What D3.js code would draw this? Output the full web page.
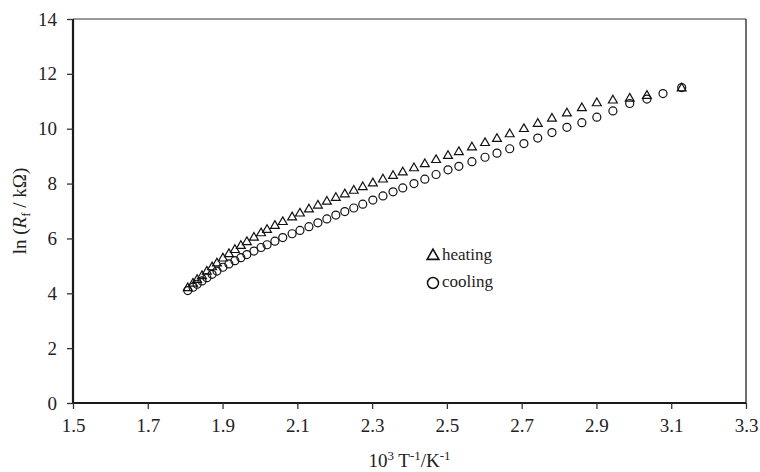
<!DOCTYPE html>
<html>
<head>
<meta charset="utf-8">
<script src="https://cdn.jsdelivr.net/npm/d3@7"></script>
<style>
  body { margin: 0; background: #fff; }
  text { font-family: "Liberation Serif", "DejaVu Serif", serif; fill: #222; }
</style>
</head>
<body>
<div id="chart"></div>
<script>
// x values (10^3/T)
var heatX = [1.807, 1.821, 1.832, 1.845, 1.858, 1.872, 1.885, 1.901, 1.917, 1.933, 1.949, 1.965, 1.984, 2.003, 2.019, 2.040, 2.061, 2.086, 2.107, 2.131, 2.155, 2.179, 2.203, 2.227, 2.251, 2.275, 2.302, 2.329, 2.356, 2.382, 2.412, 2.441, 2.471, 2.503, 2.532, 2.567, 2.602, 2.634, 2.668, 2.706, 2.743, 2.781, 2.821, 2.861, 2.901, 2.944, 2.989, 3.035, 3.128];
var heatY = [4.22, 4.38, 4.52, 4.66, 4.82, 4.98, 5.12, 5.30, 5.46, 5.61, 5.76, 5.90, 6.06, 6.22, 6.34, 6.49, 6.63, 6.80, 6.94, 7.09, 7.23, 7.37, 7.51, 7.64, 7.77, 7.90, 8.04, 8.18, 8.31, 8.44, 8.59, 8.74, 8.89, 9.04, 9.18, 9.35, 9.51, 9.66, 9.83, 10.02, 10.21, 10.40, 10.59, 10.78, 10.96, 11.06, 11.13, 11.23, 11.50];

var coolX = [1.807, 1.821, 1.832, 1.845, 1.858, 1.872, 1.885, 1.901, 1.917, 1.933, 1.949, 1.965, 1.984, 2.003, 2.019, 2.040, 2.061, 2.086, 2.107, 2.131, 2.155, 2.179, 2.203, 2.227, 2.251, 2.275, 2.302, 2.329, 2.356, 2.382, 2.412, 2.441, 2.471, 2.503, 2.532, 2.567, 2.602, 2.634, 2.668, 2.706, 2.743, 2.781, 2.821, 2.861, 2.901, 2.944, 2.989, 3.035, 3.078, 3.128];
var coolY = [4.10, 4.22, 4.33, 4.45, 4.57, 4.69, 4.81, 4.95, 5.07, 5.19, 5.30, 5.41, 5.54, 5.67, 5.77, 5.90, 6.03, 6.17, 6.29, 6.43, 6.57, 6.71, 6.85, 6.98, 7.11, 7.25, 7.40, 7.55, 7.70, 7.84, 8.00, 8.16, 8.33, 8.50, 8.63, 8.80, 8.96, 9.11, 9.27, 9.46, 9.66, 9.86, 10.05, 10.22, 10.42, 10.65, 10.92, 11.08, 11.28, 11.50];

var xTicks = [1.5, 1.7, 1.9, 2.1, 2.3, 2.5, 2.7, 2.9, 3.1, 3.3];
var yTicks = [0, 2, 4, 6, 8, 10, 12, 14];

var width = 760, height = 472;
var margin = {top: 19, right: 14, bottom: 69, left: 73};
var w = width - margin.left - margin.right,
    h = height - margin.top - margin.bottom;

var svg = d3.select("#chart").append("svg")
    .attr("width", width)
    .attr("height", height);

var g = svg.append("g")
    .attr("transform", "translate(" + margin.left + "," + margin.top + ")");

var x = d3.scaleLinear().domain([1.5, 3.3]).range([0, w]);
var y = d3.scaleLinear().domain([0, 14]).range([h, 0]);

// frame: top grey, right thin
g.append("line")
    .attr("x1", 0).attr("x2", w).attr("y1", 0).attr("y2", 0)
    .attr("stroke", "#777").attr("stroke-width", 1.5);
g.append("line")
    .attr("x1", w).attr("x2", w).attr("y1", 0).attr("y2", h)
    .attr("stroke", "#222").attr("stroke-width", 1.3);

// axes
var xAxis = g.append("g")
    .attr("transform", "translate(0," + h + ")")
    .call(d3.axisBottom(x).tickValues(xTicks).tickFormat(d3.format(".1f")).tickSize(6).tickPadding(10));
var yAxis = g.append("g")
    .call(d3.axisLeft(y).tickValues(yTicks).tickSize(6).tickPadding(10));

[xAxis, yAxis].forEach(function(a) {
    a.select(".domain").attr("stroke", "#1a1a1a").attr("stroke-width", 2.2);
    a.selectAll(".tick line").attr("stroke", "#333").attr("stroke-width", 1.3);
    a.selectAll(".tick text")
        .style("font-family", '"Liberation Serif", serif')
        .style("font-size", "19px")
        .attr("fill", "#222");
});
xAxis.select(".domain").attr("d", "M0,0H" + w);
yAxis.select(".domain").attr("d", "M0," + h + "V0");

// heating triangles
var tri = d3.symbol().type(d3.symbolTriangle).size(34);
g.append("g").selectAll("path")
    .data(heatX.map(function(d, i) { return [d, heatY[i]]; }))
    .enter().append("path")
    .attr("d", tri)
    .attr("transform", function(d) { return "translate(" + x(d[0]) + "," + (y(d[1]) + 0.8) + ")"; })
    .attr("fill", "none")
    .attr("stroke", "#111")
    .attr("stroke-width", 1.2);

// cooling circles
g.append("g").selectAll("circle")
    .data(coolX.map(function(d, i) { return [d, coolY[i]]; }))
    .enter().append("circle")
    .attr("cx", function(d) { return x(d[0]); })
    .attr("cy", function(d) { return y(d[1]); })
    .attr("r", 4)
    .attr("fill", "none")
    .attr("stroke", "#111")
    .attr("stroke-width", 1.2);

// legend
var leg = svg.append("g").attr("transform", "translate(433,0)");
leg.append("path")
    .attr("d", d3.symbol().type(d3.symbolTriangle).size(60))
    .attr("transform", "translate(0,256)")
    .attr("fill", "none").attr("stroke", "#111").attr("stroke-width", 1.6);
leg.append("text").attr("x", 9).attr("y", 260).style("font-size", "17px").text("heating");
leg.append("circle")
    .attr("cx", 0).attr("cy", 283).attr("r", 5.5)
    .attr("fill", "none").attr("stroke", "#111").attr("stroke-width", 1.5);
leg.append("text").attr("x", 9).attr("y", 287).style("font-size", "17px").text("cooling");

// y axis title
var yt = svg.append("text")
    .attr("transform", "translate(26," + (margin.top + h / 2) + ") rotate(-90)")
    .attr("text-anchor", "middle")
    .style("font-size", "19px");
yt.append("tspan").text("ln (");
yt.append("tspan").style("font-style", "italic").text("R");
yt.append("tspan").attr("dy", 4).style("font-size", "13px").text("f");
yt.append("tspan").attr("dy", -4).text(" / kΩ)");

// x axis title
var xt = svg.append("text")
    .attr("x", margin.left + w / 2)
    .attr("y", 467)
    .attr("text-anchor", "middle")
    .style("font-size", "19px");
xt.append("tspan").text("10");
xt.append("tspan").attr("dy", -7).style("font-size", "13px").text("3");
xt.append("tspan").attr("dy", 7).text(" T");
xt.append("tspan").attr("dy", -7).style("font-size", "13px").text("-1");
xt.append("tspan").attr("dy", 7).text("/K");
xt.append("tspan").attr("dy", -7).style("font-size", "13px").text("-1");
</script>
</body>
</html>
